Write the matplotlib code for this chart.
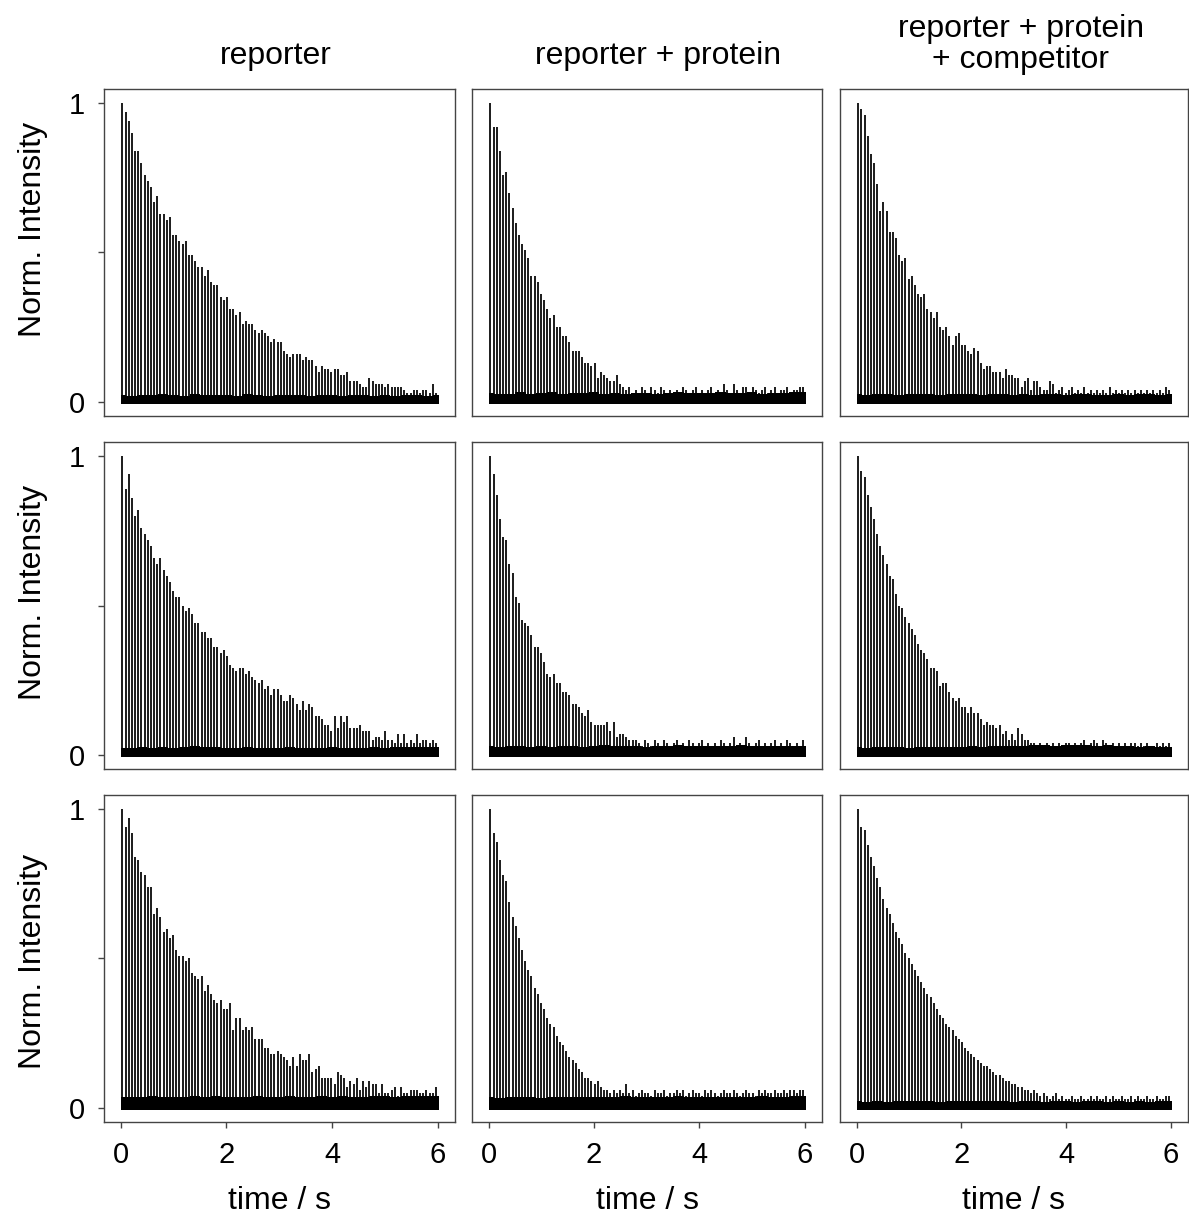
import matplotlib
matplotlib.use("Agg")
import matplotlib.pyplot as plt
import numpy as np

plt.rcParams["font.family"] = ["Liberation Sans", "DejaVu Sans"]

# labels
column_titles = ["reporter", "reporter + protein", "reporter + protein\n+ competitor"]
x_label = "time / s"
y_label = "Norm. Intensity"
x_ticks = [0, 2, 4, 6]
y_ticks = [0, 0.5, 1]
y_tick_labels = ["0", "", "1"]

# pulse train: one peak every 60 ms, first one at 30 ms
n_pulses = 100
pulse_period = 0.06
first_pulse = 0.03

# peak heights per panel (row, column)
peaks_r1c1 = [1.00, 0.97, 0.94, 0.90, 0.84, 0.84, 0.80, 0.76, 0.74, 0.72,
              0.67, 0.69, 0.63, 0.63, 0.61, 0.62, 0.56, 0.56, 0.54, 0.53,
              0.54, 0.49, 0.49, 0.47, 0.45, 0.45, 0.42, 0.44, 0.40, 0.39,
              0.39, 0.35, 0.34, 0.35, 0.31, 0.31, 0.29, 0.30, 0.26, 0.27,
              0.26, 0.26, 0.24, 0.23, 0.24, 0.23, 0.22, 0.20, 0.21, 0.20,
              0.20, 0.17, 0.16, 0.15, 0.16, 0.16, 0.16, 0.14, 0.15, 0.14,
              0.14, 0.12, 0.10, 0.12, 0.11, 0.11, 0.10, 0.11, 0.11, 0.09,
              0.09, 0.10, 0.07, 0.07, 0.07, 0.06, 0.05, 0.05, 0.08, 0.07,
              0.06, 0.06, 0.06, 0.05, 0.06, 0.05, 0.05, 0.05, 0.05, 0.04,
              0.03, 0.03, 0.04, 0.04, 0.03, 0.04, 0.04, 0.03, 0.06, 0.03]
peaks_r1c2 = [1.00, 0.92, 0.92, 0.84, 0.76, 0.77, 0.70, 0.65, 0.60, 0.56,
              0.53, 0.51, 0.48, 0.42, 0.42, 0.40, 0.36, 0.34, 0.31, 0.28,
              0.29, 0.25, 0.25, 0.22, 0.22, 0.20, 0.17, 0.17, 0.17, 0.15,
              0.13, 0.13, 0.12, 0.13, 0.08, 0.10, 0.09, 0.08, 0.07, 0.07,
              0.09, 0.06, 0.05, 0.04, 0.05, 0.03, 0.04, 0.03, 0.05, 0.04,
              0.03, 0.05, 0.04, 0.03, 0.05, 0.04, 0.03, 0.04, 0.03, 0.04,
              0.03, 0.05, 0.04, 0.03, 0.04, 0.05, 0.03, 0.04, 0.03, 0.04,
              0.05, 0.03, 0.04, 0.03, 0.06, 0.04, 0.03, 0.06, 0.04, 0.03,
              0.05, 0.05, 0.03, 0.05, 0.04, 0.03, 0.04, 0.05, 0.03, 0.04,
              0.05, 0.03, 0.04, 0.04, 0.05, 0.03, 0.04, 0.04, 0.05, 0.05]
peaks_r1c3 = [1.00, 0.98, 0.96, 0.89, 0.83, 0.80, 0.73, 0.64, 0.67, 0.64,
              0.57, 0.57, 0.55, 0.49, 0.47, 0.48, 0.41, 0.42, 0.39, 0.36,
              0.35, 0.36, 0.31, 0.30, 0.28, 0.30, 0.25, 0.24, 0.25, 0.22,
              0.19, 0.22, 0.23, 0.19, 0.19, 0.17, 0.16, 0.18, 0.17, 0.13,
              0.11, 0.12, 0.12, 0.10, 0.10, 0.10, 0.08, 0.11, 0.09, 0.09,
              0.08, 0.08, 0.05, 0.07, 0.08, 0.04, 0.07, 0.07, 0.05, 0.04,
              0.04, 0.07, 0.06, 0.03, 0.04, 0.05, 0.03, 0.04, 0.05, 0.03,
              0.04, 0.03, 0.05, 0.03, 0.04, 0.03, 0.04, 0.03, 0.04, 0.03,
              0.05, 0.03, 0.04, 0.03, 0.04, 0.03, 0.04, 0.03, 0.04, 0.03,
              0.04, 0.03, 0.04, 0.03, 0.04, 0.03, 0.04, 0.03, 0.05, 0.04]
peaks_r2c1 = [1.00, 0.89, 0.94, 0.86, 0.80, 0.82, 0.76, 0.74, 0.72, 0.70,
              0.66, 0.64, 0.66, 0.62, 0.60, 0.58, 0.55, 0.53, 0.53, 0.50,
              0.48, 0.49, 0.47, 0.44, 0.44, 0.41, 0.41, 0.39, 0.39, 0.36,
              0.36, 0.34, 0.35, 0.33, 0.30, 0.29, 0.28, 0.29, 0.29, 0.27,
              0.28, 0.26, 0.25, 0.24, 0.25, 0.22, 0.23, 0.20, 0.22, 0.22,
              0.20, 0.18, 0.18, 0.20, 0.19, 0.17, 0.15, 0.18, 0.15, 0.17,
              0.16, 0.13, 0.13, 0.12, 0.10, 0.10, 0.08, 0.13, 0.09, 0.13,
              0.11, 0.13, 0.09, 0.09, 0.09, 0.10, 0.08, 0.08, 0.08, 0.05,
              0.06, 0.06, 0.05, 0.08, 0.05, 0.05, 0.04, 0.07, 0.04, 0.07,
              0.04, 0.05, 0.04, 0.07, 0.04, 0.05, 0.05, 0.04, 0.05, 0.04]
peaks_r2c2 = [1.00, 0.94, 0.87, 0.79, 0.73, 0.72, 0.64, 0.61, 0.53, 0.51,
              0.45, 0.44, 0.43, 0.40, 0.36, 0.36, 0.34, 0.31, 0.27, 0.26,
              0.27, 0.24, 0.24, 0.21, 0.21, 0.20, 0.17, 0.17, 0.16, 0.14,
              0.13, 0.15, 0.11, 0.10, 0.10, 0.10, 0.10, 0.11, 0.08, 0.11,
              0.06, 0.07, 0.07, 0.06, 0.05, 0.05, 0.05, 0.04, 0.03, 0.05,
              0.04, 0.03, 0.05, 0.04, 0.03, 0.05, 0.04, 0.03, 0.04, 0.05,
              0.03, 0.04, 0.03, 0.05, 0.04, 0.03, 0.04, 0.05, 0.03, 0.04,
              0.03, 0.04, 0.03, 0.05, 0.04, 0.03, 0.04, 0.06, 0.03, 0.04,
              0.03, 0.06, 0.04, 0.03, 0.04, 0.05, 0.03, 0.04, 0.03, 0.04,
              0.05, 0.03, 0.04, 0.03, 0.05, 0.04, 0.03, 0.04, 0.03, 0.05]
peaks_r2c3 = [1.00, 0.95, 0.93, 0.87, 0.83, 0.79, 0.74, 0.70, 0.67, 0.64,
              0.60, 0.59, 0.54, 0.50, 0.49, 0.46, 0.44, 0.42, 0.40, 0.37,
              0.35, 0.34, 0.32, 0.29, 0.29, 0.28, 0.23, 0.24, 0.24, 0.21,
              0.19, 0.18, 0.19, 0.16, 0.16, 0.14, 0.16, 0.14, 0.14, 0.12,
              0.10, 0.11, 0.10, 0.10, 0.09, 0.10, 0.07, 0.08, 0.05, 0.07,
              0.05, 0.09, 0.07, 0.05, 0.05, 0.04, 0.04, 0.03, 0.04, 0.03,
              0.04, 0.03, 0.04, 0.03, 0.04, 0.03, 0.04, 0.04, 0.03, 0.04,
              0.03, 0.04, 0.05, 0.03, 0.04, 0.05, 0.04, 0.03, 0.05, 0.04,
              0.03, 0.04, 0.03, 0.04, 0.03, 0.04, 0.03, 0.04, 0.04, 0.03,
              0.04, 0.03, 0.04, 0.03, 0.03, 0.04, 0.03, 0.04, 0.03, 0.04]
peaks_r3c1 = [1.00, 0.94, 0.97, 0.92, 0.84, 0.83, 0.79, 0.78, 0.74, 0.74,
              0.65, 0.67, 0.64, 0.59, 0.60, 0.57, 0.58, 0.53, 0.51, 0.51,
              0.49, 0.50, 0.45, 0.44, 0.43, 0.44, 0.39, 0.41, 0.38, 0.36,
              0.35, 0.36, 0.33, 0.33, 0.35, 0.26, 0.30, 0.30, 0.26, 0.27,
              0.26, 0.27, 0.23, 0.23, 0.23, 0.20, 0.20, 0.18, 0.18, 0.19,
              0.18, 0.17, 0.16, 0.14, 0.17, 0.14, 0.18, 0.16, 0.16, 0.18,
              0.12, 0.13, 0.14, 0.10, 0.10, 0.10, 0.10, 0.08, 0.12, 0.11,
              0.10, 0.07, 0.09, 0.08, 0.10, 0.06, 0.09, 0.07, 0.09, 0.08,
              0.08, 0.05, 0.08, 0.05, 0.05, 0.06, 0.07, 0.04, 0.07, 0.05,
              0.05, 0.06, 0.06, 0.06, 0.05, 0.05, 0.06, 0.05, 0.05, 0.07]
peaks_r3c2 = [1.00, 0.92, 0.89, 0.83, 0.78, 0.76, 0.69, 0.64, 0.61, 0.57,
              0.53, 0.49, 0.46, 0.44, 0.40, 0.38, 0.35, 0.33, 0.30, 0.28,
              0.27, 0.24, 0.22, 0.21, 0.19, 0.17, 0.16, 0.15, 0.13, 0.12,
              0.10, 0.10, 0.09, 0.08, 0.09, 0.07, 0.06, 0.06, 0.05, 0.06,
              0.05, 0.06, 0.05, 0.08, 0.05, 0.06, 0.04, 0.05, 0.06, 0.05,
              0.05, 0.04, 0.06, 0.05, 0.05, 0.06, 0.04, 0.05, 0.05, 0.06,
              0.05, 0.06, 0.04, 0.05, 0.06, 0.05, 0.05, 0.04, 0.06, 0.05,
              0.06, 0.05, 0.04, 0.05, 0.06, 0.05, 0.05, 0.06, 0.05, 0.04,
              0.05, 0.06, 0.05, 0.05, 0.04, 0.06, 0.05, 0.06, 0.05, 0.05,
              0.06, 0.05, 0.05, 0.06, 0.05, 0.06, 0.06, 0.05, 0.06, 0.06]
peaks_r3c3 = [1.00, 0.94, 0.93, 0.88, 0.84, 0.81, 0.77, 0.74, 0.70, 0.67,
              0.65, 0.62, 0.59, 0.57, 0.55, 0.52, 0.50, 0.48, 0.46, 0.44,
              0.42, 0.40, 0.38, 0.37, 0.35, 0.33, 0.31, 0.30, 0.28, 0.27,
              0.26, 0.24, 0.23, 0.22, 0.20, 0.19, 0.18, 0.17, 0.16, 0.15,
              0.14, 0.14, 0.13, 0.12, 0.11, 0.11, 0.10, 0.09, 0.09, 0.08,
              0.08, 0.07, 0.07, 0.06, 0.06, 0.05, 0.06, 0.05, 0.04, 0.05,
              0.04, 0.03, 0.04, 0.05, 0.03, 0.04, 0.03, 0.03, 0.04, 0.03,
              0.03, 0.04, 0.03, 0.03, 0.04, 0.03, 0.04, 0.03, 0.03, 0.04,
              0.03, 0.04, 0.03, 0.03, 0.04, 0.03, 0.03, 0.04, 0.03, 0.04,
              0.03, 0.03, 0.04, 0.03, 0.03, 0.04, 0.03, 0.03, 0.04, 0.04]

# upper edge of the noise band every 0.2 s (0 .. 6 s), and its floor
band_times = [0.0, 0.2, 0.4, 0.6, 0.8, 1.0, 1.2, 1.4, 1.6, 1.8, 2.0,
              2.2, 2.4, 2.6, 2.8, 3.0, 3.2, 3.4, 3.6, 3.8, 4.0,
              4.2, 4.4, 4.6, 4.8, 5.0, 5.2, 5.4, 5.6, 5.8, 6.02]
band_r1c1 = [0.022, 0.020, 0.024, 0.022, 0.025, 0.023, 0.021, 0.026, 0.022, 0.024, 0.023,
             0.021, 0.025, 0.022, 0.020, 0.023, 0.022, 0.024, 0.021, 0.023, 0.022,
             0.020, 0.022, 0.023, 0.021, 0.022, 0.020, 0.022, 0.023, 0.021, 0.022]
band_r1c2 = [0.030, 0.026, 0.028, 0.032, 0.027, 0.030, 0.033, 0.028, 0.031, 0.029, 0.032,
             0.027, 0.030, 0.026, 0.029, 0.031, 0.028, 0.030, 0.032, 0.029, 0.031,
             0.030, 0.033, 0.029, 0.031, 0.032, 0.028, 0.031, 0.030, 0.033, 0.032]
band_r1c3 = [0.026, 0.024, 0.027, 0.025, 0.023, 0.026, 0.025, 0.027, 0.024, 0.026, 0.025,
             0.027, 0.024, 0.026, 0.025, 0.023, 0.026, 0.024, 0.025, 0.027, 0.024,
             0.025, 0.026, 0.024, 0.023, 0.025, 0.024, 0.026, 0.025, 0.024, 0.026]
band_r2c1 = [0.024, 0.022, 0.025, 0.023, 0.026, 0.024, 0.028, 0.029, 0.027, 0.025, 0.024,
             0.023, 0.025, 0.022, 0.024, 0.023, 0.025, 0.022, 0.024, 0.023, 0.025,
             0.024, 0.022, 0.023, 0.025, 0.024, 0.026, 0.025, 0.027, 0.026, 0.028]
band_r2c2 = [0.030, 0.028, 0.031, 0.029, 0.027, 0.030, 0.028, 0.029, 0.031, 0.028, 0.030,
             0.032, 0.029, 0.031, 0.030, 0.028, 0.031, 0.029, 0.032, 0.030, 0.031,
             0.029, 0.031, 0.030, 0.032, 0.029, 0.031, 0.030, 0.029, 0.031, 0.030]
band_r2c3 = [0.026, 0.024, 0.027, 0.025, 0.026, 0.024, 0.027, 0.025, 0.026, 0.028, 0.027,
             0.029, 0.028, 0.030, 0.029, 0.031, 0.030, 0.032, 0.033, 0.031, 0.032,
             0.034, 0.033, 0.031, 0.032, 0.030, 0.029, 0.028, 0.029, 0.027, 0.028]
band_r3c1 = [0.036, 0.038, 0.035, 0.039, 0.037, 0.036, 0.038, 0.040, 0.037, 0.039, 0.036,
             0.038, 0.037, 0.039, 0.038, 0.036, 0.039, 0.037, 0.038, 0.040, 0.037,
             0.039, 0.038, 0.037, 0.039, 0.040, 0.038, 0.039, 0.041, 0.039, 0.040]
band_r3c2 = [0.036, 0.034, 0.037, 0.035, 0.036, 0.034, 0.037, 0.035, 0.036, 0.038, 0.037,
             0.036, 0.038, 0.040, 0.037, 0.036, 0.038, 0.037, 0.039, 0.037, 0.038,
             0.036, 0.037, 0.038, 0.036, 0.037, 0.039, 0.038, 0.037, 0.040, 0.039]
band_r3c3 = [0.022, 0.020, 0.023, 0.021, 0.022, 0.024, 0.022, 0.023, 0.021, 0.022, 0.023,
             0.022, 0.024, 0.023, 0.022, 0.021, 0.023, 0.022, 0.021, 0.023, 0.022,
             0.021, 0.022, 0.023, 0.021, 0.022, 0.020, 0.022, 0.021, 0.022, 0.023]
band_floor = -0.006

peaks = [[peaks_r1c1, peaks_r1c2, peaks_r1c3],
         [peaks_r2c1, peaks_r2c2, peaks_r2c3],
         [peaks_r3c1, peaks_r3c2, peaks_r3c3]]
bands = [[band_r1c1, band_r1c2, band_r1c3],
         [band_r2c1, band_r2c2, band_r2c3],
         [band_r3c1, band_r3c2, band_r3c3]]

pulse_times = first_pulse + pulse_period * np.arange(n_pulses)

# layout, in figure fractions
W, H = 1189, 1219
col_left = [104 / W, 472 / W, 840 / W]
col_width = [351 / W, 350 / W, 348 / W]
row_top = [89 / H, 442 / H, 795 / H]
row_height = 327 / H
ylabel_y = [0.57, 0.54, 0.49]
title_x = [0.49, 0.531, 0.52]
title_y = [1.10, 1.10, 1.135]

fig = plt.figure(figsize=(W / 100, H / 100), dpi=100)
fig.patch.set_facecolor("white")

for r in range(3):
    for c in range(3):
        ax = fig.add_axes([col_left[c], 1 - row_top[r] - row_height, col_width[c], row_height])
        ax.fill_between(band_times, band_floor, bands[r][c], color="black", lw=0, step="mid")
        ax.vlines(pulse_times, 0, peaks[r][c], color="black", lw=1.25)

        ax.set_xlim(-0.32, 6.33)
        ax.set_ylim(-0.047, 1.047)
        for s in ax.spines.values():
            s.set_color("#444444")
            s.set_linewidth(1.0)
        ax.tick_params(direction="out", length=4, width=1.0, color="#444444",
                       labelsize=21, pad=10)

        if c == 0:
            ax.set_yticks(y_ticks)
            ax.set_yticklabels(y_tick_labels)
            ax.set_ylabel(y_label, fontsize=23)
            ax.yaxis.set_label_coords(-0.16, ylabel_y[r])
        else:
            ax.set_yticks([])
        if r == 2:
            ax.set_xticks(x_ticks)
            ax.set_xticklabels([str(t) for t in x_ticks])
            ax.set_xlabel(x_label, fontsize=23, labelpad=12)
        else:
            ax.set_xticks([])
        if r == 0:
            ax.text(title_x[c], title_y[c], column_titles[c], transform=ax.transAxes,
                    ha="center", va="center", fontsize=23, linespacing=1.05)

fig.savefig("out.png", dpi=100, facecolor="white")
